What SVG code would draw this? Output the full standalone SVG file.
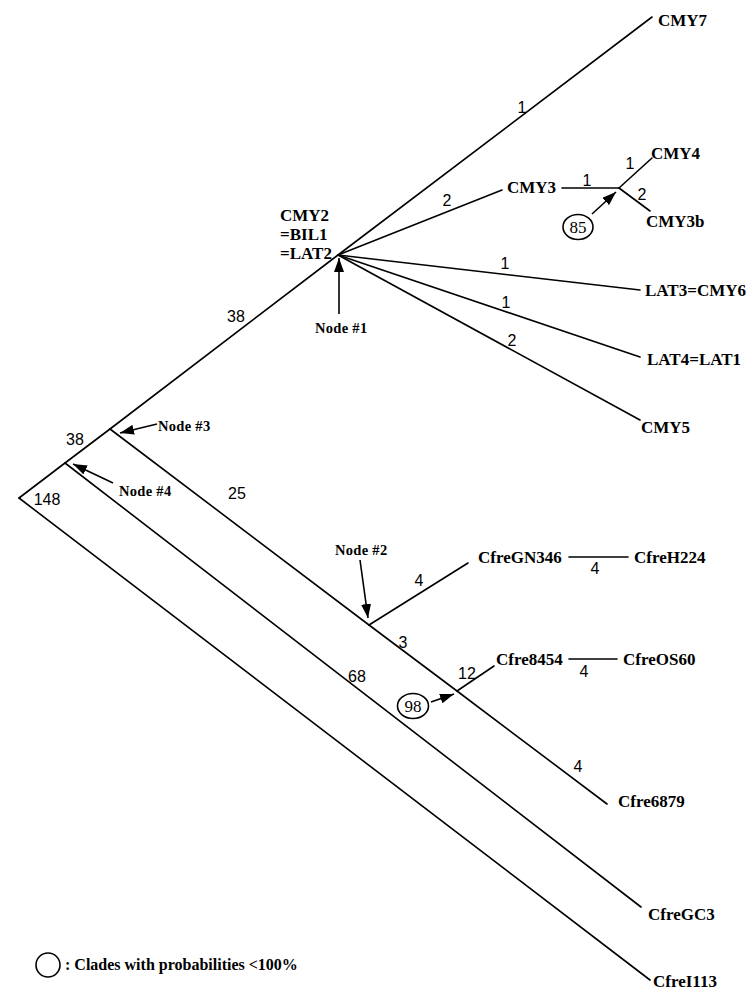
<svg xmlns="http://www.w3.org/2000/svg" width="755" height="998" viewBox="0 0 755 998">
<style>
.e{stroke:#000;stroke-width:1.6;fill:none;stroke-linecap:round}
.a{stroke:#000;stroke-width:1.6;fill:none;marker-end:url(#ah)}
.t{font-family:"Liberation Serif","Times New Roman",serif;font-weight:bold;font-size:17px;fill:#000}
.n{font-family:"Liberation Serif","Times New Roman",serif;font-weight:bold;font-size:14.5px;letter-spacing:0.3px;fill:#000}
.w{font-family:"Liberation Sans",Arial,sans-serif;font-size:16px;fill:#000;text-anchor:middle}
.c{stroke:#000;stroke-width:1.6;fill:none}
.p{font-family:"Liberation Serif","Times New Roman",serif;font-size:17px;fill:#000;text-anchor:middle}
.l{font-family:"Liberation Serif","Times New Roman",serif;font-weight:bold;font-size:16px;fill:#000}
</style>
<defs>
<marker id="ah" markerUnits="userSpaceOnUse" markerWidth="14" markerHeight="10" refX="14" refY="5" orient="auto">
<path d="M0,0 L14,5 L0,10 z" fill="#000"/>
</marker>
</defs>
<rect width="755" height="998" fill="#fff"/>
<g id="connectors">
<line class="e" x1="19" y1="498" x2="65" y2="463"/>
<line class="e" x1="65" y1="463" x2="110" y2="429"/>
<line class="e" x1="110" y1="429" x2="338" y2="255"/>
<line class="e" x1="338" y1="255" x2="652" y2="17"/>
<line class="e" x1="338" y1="255" x2="502" y2="190"/>
<line class="e" x1="338" y1="255" x2="640" y2="290"/>
<line class="e" x1="338" y1="255" x2="640" y2="357"/>
<line class="e" x1="338" y1="255" x2="640" y2="420"/>
<line class="e" x1="562" y1="188" x2="619" y2="188"/>
<line class="e" x1="619" y1="188" x2="652" y2="158"/>
<line class="e" x1="619" y1="188" x2="650" y2="211"/>
<line class="e" x1="19" y1="498" x2="650" y2="980"/>
<line class="e" x1="65" y1="463" x2="641" y2="907"/>
<line class="e" x1="110" y1="429" x2="369" y2="625"/>
<line class="e" x1="369" y1="625" x2="457" y2="691"/>
<line class="e" x1="457" y1="691" x2="607" y2="804"/>
<line class="e" x1="369" y1="625" x2="468" y2="563"/>
<line class="e" x1="569" y1="557" x2="628" y2="557"/>
<line class="e" x1="457" y1="691" x2="494" y2="666"/>
<line class="e" x1="569" y1="659" x2="617" y2="659"/>
<line class="a" x1="339" y1="314" x2="339" y2="258"/>
<line class="a" x1="157" y1="424" x2="120" y2="433"/>
<line class="a" x1="113" y1="483" x2="73" y2="464"/>
<line class="a" x1="360" y1="560" x2="368" y2="618"/>
<line class="a" x1="592" y1="214" x2="616" y2="192"/>
<line class="a" x1="431" y1="702" x2="454" y2="694"/>
</g>
<g id="branch-lengths">
<text class="w" x="522" y="113">1</text>
<text class="w" x="447" y="206">2</text>
<text class="w" x="587" y="186">1</text>
<text class="w" x="630" y="169">1</text>
<text class="w" x="642" y="200">2</text>
<text class="w" x="505" y="269">1</text>
<text class="w" x="506" y="308">1</text>
<text class="w" x="512" y="346">2</text>
<text class="w" x="236" y="322">38</text>
<text class="w" x="75" y="445">38</text>
<text class="w" x="47" y="505">148</text>
<text class="w" x="237" y="499">25</text>
<text class="w" x="419" y="586">4</text>
<text class="w" x="595" y="574">4</text>
<text class="w" x="403" y="648">3</text>
<text class="w" x="467" y="679">12</text>
<text class="w" x="584" y="677">4</text>
<text class="w" x="357" y="682">68</text>
<text class="w" x="578" y="772">4</text>
</g>
<g id="CMY7"><text class="t" x="658" y="26">CMY7</text></g>
<g id="CMY4"><text class="t" x="651" y="159">CMY4</text></g>
<g id="CMY3"><text class="t" x="507" y="193">CMY3</text></g>
<g id="CMY3b"><text class="t" x="646" y="227">CMY3b</text></g>
<g id="CMY2"><text class="t" x="280" y="221">CMY2</text><text class="t" x="280" y="240">=BIL1</text><text class="t" x="280" y="259">=LAT2</text></g>
<g id="LAT3"><text class="t" x="645" y="296">LAT3=CMY6</text></g>
<g id="LAT4"><text class="t" x="647" y="365">LAT4=LAT1</text></g>
<g id="CMY5"><text class="t" x="641" y="433">CMY5</text></g>
<g id="CfreGN346"><text class="t" x="478" y="563">CfreGN346</text></g>
<g id="CfreH224"><text class="t" x="634" y="563">CfreH224</text></g>
<g id="Cfre8454"><text class="t" x="496" y="665">Cfre8454</text></g>
<g id="CfreOS60"><text class="t" x="623" y="665">CfreOS60</text></g>
<g id="Cfre6879"><text class="t" x="618" y="807">Cfre6879</text></g>
<g id="CfreGC3"><text class="t" x="648" y="920">CfreGC3</text></g>
<g id="CfreI113"><text class="t" x="653" y="987">CfreI113</text></g>
<g id="node1"><text class="n" x="315" y="333">Node #1</text></g>
<g id="node2"><text class="n" x="335" y="555">Node #2</text></g>
<g id="node3"><text class="n" x="158" y="431">Node #3</text></g>
<g id="node4"><text class="n" x="119" y="496">Node #4</text></g>
<g id="p85"><ellipse class="c" cx="578" cy="227" rx="15" ry="12.5"/><text class="p" x="578" y="233">85</text></g>
<g id="p98"><ellipse class="c" cx="413" cy="706" rx="15.5" ry="12.5"/><text class="p" x="413" y="712">98</text></g>
<g id="legend"><ellipse class="c" cx="48" cy="965" rx="12" ry="12"/><text class="l" x="65" y="970">: Clades with probabilities &lt;100%</text></g>
</svg>
